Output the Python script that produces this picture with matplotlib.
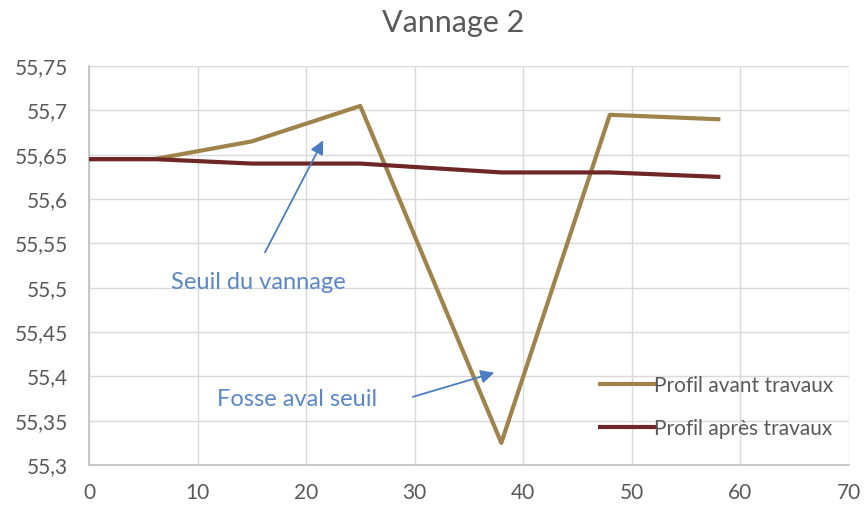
import matplotlib.pyplot as plt
from matplotlib.ticker import FuncFormatter, MultipleLocator

# distances (m) and levels
x_pts = [0, 6, 15, 25, 38, 48, 58]
avant = [55.645, 55.645, 55.665, 55.705, 55.325, 55.695, 55.69]
apres = [55.645, 55.645, 55.64, 55.64, 55.63, 55.63, 55.625]

plt.rcParams['font.family'] = ['Lato', 'DejaVu Sans']

fig = plt.figure(figsize=(8.66, 5.08), dpi=100)
ax = fig.add_axes([0.1028, 0.0846, 0.877, 0.7854])

ax.plot(x_pts, avant, color='#A0834B', lw=3, label='Profil avant travaux', zorder=3)
ax.plot(x_pts, apres, color='#6E2626', lw=3, label='Profil après travaux', zorder=3)

ax.set_xlim(0, 70)
ax.set_ylim(55.3, 55.75)
ax.xaxis.set_major_locator(MultipleLocator(10))
ax.yaxis.set_major_locator(MultipleLocator(0.05))
ax.yaxis.set_major_formatter(FuncFormatter(lambda v, p: f'{v:.2f}'.rstrip('0').replace('.', ',')))
ax.grid(color='#D9D9D9', lw=1)
ax.set_axisbelow(True)
for s in ['top', 'right']:
    ax.spines[s].set_visible(False)
for s in ['left', 'bottom']:
    ax.spines[s].set_color('#BFBFBF')
    ax.spines[s].set_linewidth(1.2)
ax.tick_params(length=0, labelsize=15, labelcolor='#595959')
ax.tick_params(axis='x', pad=13)
ax.tick_params(axis='y', pad=15)

fig.text(0.523, 0.955, 'Vannage 2', fontsize=22, color='#595959', ha='center', va='center')

blue = '#5A87C6'
ax.annotate('', xy=(21.7, 55.669), xytext=(16.1, 55.537),
            arrowprops=dict(arrowstyle='-|>', color='#4A7EC0', lw=1.3, mutation_scale=20))
ax.text(15.6, 55.506, 'Seuil du vannage', color=blue, fontsize=17, ha='center', va='center')
ax.annotate('', xy=(37.6, 55.405), xytext=(29.6, 55.376),
            arrowprops=dict(arrowstyle='-|>', color='#4A7EC0', lw=1.3, mutation_scale=20))
ax.text(19.2, 55.374, 'Fosse aval seuil', color=blue, fontsize=17, ha='center', va='center')

leg = ax.legend(loc='lower right', bbox_to_anchor=(0.994, 0.04), frameon=False, fontsize=15,
                labelcolor='#595959', handlelength=2.6, handletextpad=0.0, labelspacing=1.1,
                borderpad=0)

fig.savefig('out.png', dpi=100)
